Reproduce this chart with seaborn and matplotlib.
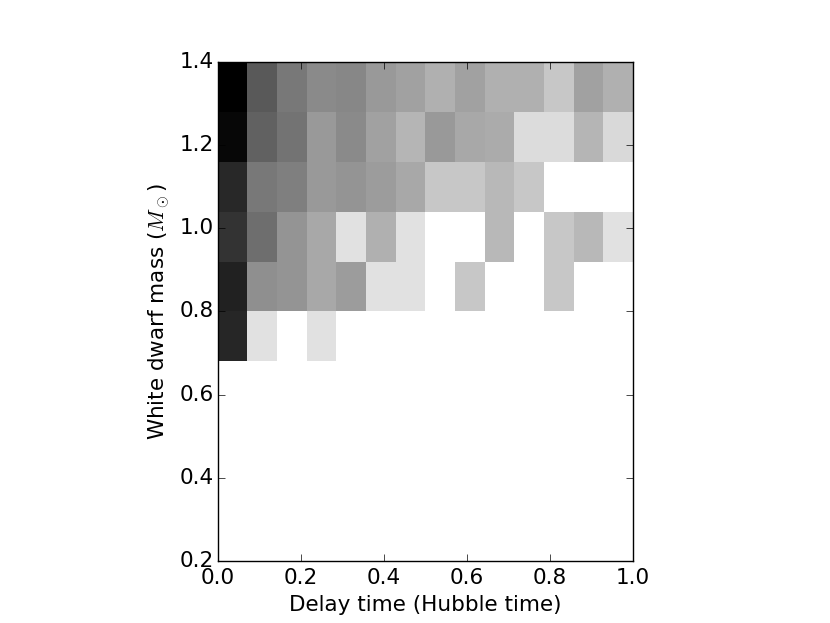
import numpy as np
import pandas as pd
import matplotlib
matplotlib.use("Agg")
import matplotlib.pyplot as plt
import seaborn as sns

# ---- data -------------------------------------------------------------
# delay-time bin edges (Hubble time) and white-dwarf-mass bin edges (M_sun)
delay_edges = np.linspace(0.0, 1.0, 15)
mass_edges = np.linspace(0.2, 1.4, 11)

# relative density per cell (0 = empty/white, 1 = black); rows bottom -> top
# (mass bins 0.20-0.32 ... 1.28-1.40), columns left -> right (delay bins)
row_0p20 = [0] * 14
row_0p32 = [0] * 14
row_0p44 = [0] * 14
row_0p56 = [0] * 14
row_0p68 = [0.85, 0.12, 0, 0.12, 0, 0, 0, 0, 0, 0, 0, 0, 0, 0]
row_0p80 = [0.87, 0.44, 0.42, 0.34, 0.39, 0.12, 0.12, 0, 0.22, 0, 0, 0.22, 0, 0]
row_0p92 = [0.80, 0.57, 0.42, 0.34, 0.12, 0.31, 0.12, 0, 0, 0.28, 0, 0.22, 0.28, 0.12]
row_1p04 = [0.84, 0.53, 0.50, 0.40, 0.42, 0.39, 0.34, 0.22, 0.22, 0.28, 0.22, 0, 0, 0]
row_1p16 = [0.97, 0.62, 0.55, 0.40, 0.46, 0.37, 0.29, 0.40, 0.34, 0.33, 0.14, 0.14, 0.29, 0.15]
row_1p28 = [1.00, 0.65, 0.53, 0.46, 0.47, 0.40, 0.37, 0.31, 0.37, 0.31, 0.31, 0.22, 0.37, 0.31]

density = np.array([row_0p20, row_0p32, row_0p44, row_0p56, row_0p68,
                    row_0p80, row_0p92, row_1p04, row_1p16, row_1p28], dtype=float)

x_ticks = [0.0, 0.2, 0.4, 0.6, 0.8, 1.0]
y_ticks = [0.2, 0.4, 0.6, 0.8, 1.0, 1.2, 1.4]

# ---- long-form table --------------------------------------------------
xc = (delay_edges[:-1] + delay_edges[1:]) / 2
yc = (mass_edges[:-1] + mass_edges[1:]) / 2
XX, YY = np.meshgrid(xc, yc)
df = pd.DataFrame({"delay": XX.ravel(), "mass": YY.ravel(), "w": density.ravel()})

# ---- plot ---------------------------------------------------------------
plt.style.use("classic")
plt.rcParams["mathtext.fontset"] = "cm"
fig = plt.figure(figsize=(8.3, 6.23), dpi=100, facecolor="white")
ax = fig.add_subplot(111)

sns.histplot(data=df, x="delay", y="mass", weights="w",
             bins=[delay_edges, mass_edges], cmap="gray_r",
             vmin=0, vmax=1, ax=ax)

ax.set_xlim(0, 1)
ax.set_ylim(0.2, 1.4)
ax.set_aspect("equal")
ax.set_xticks(x_ticks)
ax.set_yticks(y_ticks)
ax.set_xticklabels([f"{t:.1f}" for t in x_ticks], fontsize=15.5)
ax.set_yticklabels([f"{t:.1f}" for t in y_ticks], fontsize=15.5)
ax.tick_params(direction="in", top=True, right=True, length=5)
ax.tick_params(axis="y", pad=3)
ax.tick_params(axis="x", pad=5)
ax.set_xlabel("Delay time (Hubble time)", fontsize=15.5)
ax.set_ylabel(r"White dwarf mass ($M_\odot$)", fontsize=15.5)

fig.savefig("out.png", dpi=100, facecolor="white")
